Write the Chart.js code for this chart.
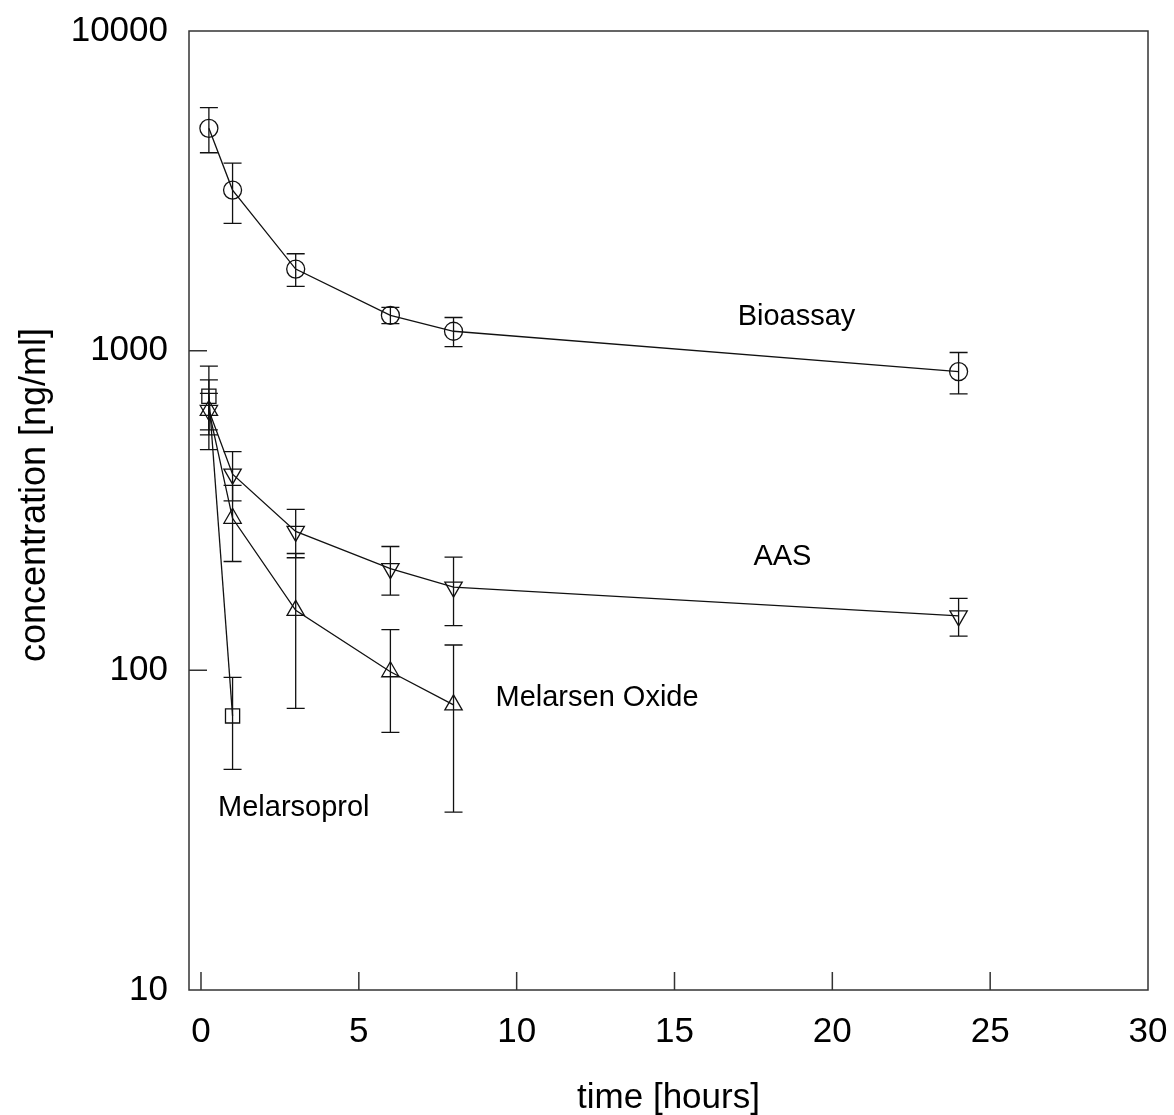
<!DOCTYPE html>
<html>
<head>
<meta charset="utf-8">
<script src="https://cdn.jsdelivr.net/npm/chart.js@4.4.1/dist/chart.umd.min.js"></script>
<style>
  html, body { margin: 0; padding: 0; background: #fff; }
  canvas { display: block; }
</style>
</head>
<body>
<canvas id="pkChart" width="1174" height="1115"></canvas>
<script>
// sampling times [h]
const bioassayTimes = [0.25, 1, 3, 6, 8, 24];
const aasTimes = [0.25, 1, 3, 6, 8, 24];
const oxideTimes = [0.25, 1, 3, 6, 8];
const melarsoprolTimes = [0.25, 1];

// mean concentration [ng/ml] and standard deviation
const bioassay = [4960, 3180, 1800, 1290, 1150, 860];
const bioassaySD = [800, 680, 210, 75, 120, 127];
const aas = [650, 411, 272, 208, 182, 148];
const aasSD = [160, 72, 47, 36, 44, 20];
const oxide = [650, 299, 154, 99, 78];
const oxideSD = [85, 80, 78, 35, 42];
const melarsoprol = [720, 72];
const melarsoprolSD = [175, 23];

// axis ticks
const xTicks = [0, 5, 10, 15, 20, 25, 30];
const yTicks = [10, 100, 1000, 10000];

// text placed next to each curve (x in hours, y in ng/ml)
const curveLabels = [
  { text: 'Bioassay', x: 17.0, y: 1274 },
  { text: 'AAS', x: 17.5, y: 226 },
  { text: 'Melarsen Oxide', x: 9.33, y: 81.8 },
  { text: 'Melarsoprol', x: 0.54, y: 37.1 }
];

const yTitle = 'concentration [ng/ml]';

const FONT = "'Liberation Sans', Arial, Helvetica, sans-serif";
const INK = '#111';

const toPoints = (xs, ys) => xs.map((t, i) => ({ x: t, y: ys[i] }));

function series(label, xs, ys, sd, style, extra) {
  return Object.assign({
    label,
    data: toPoints(xs, ys),
    sd,
    showLine: true,
    borderColor: INK,
    borderWidth: 1.3,
    backgroundColor: 'rgba(0,0,0,0)',
    pointStyle: style,
    pointRadius: 10,
    pointBorderWidth: 1.3,
    pointBorderColor: INK,
    pointBackgroundColor: 'rgba(0,0,0,0)',
    tension: 0
  }, extra || {});
}

// error bars, box frame, inward ticks, curve names and the y title
const decorations = {
  id: 'decorations',
  afterDatasetsDraw(chart) {
    const { ctx, chartArea: a, scales: { x, y } } = chart;
    ctx.save();
    ctx.strokeStyle = INK;
    ctx.lineWidth = 1.3;
    const cap = 9;
    chart.data.datasets.forEach(ds => {
      ds.data.forEach((p, i) => {
        const px = x.getPixelForValue(p.x);
        const top = y.getPixelForValue(p.y + ds.sd[i]);
        const bot = y.getPixelForValue(p.y - ds.sd[i]);
        ctx.beginPath();
        ctx.moveTo(px, top); ctx.lineTo(px, bot);
        ctx.moveTo(px - cap, top); ctx.lineTo(px + cap, top);
        ctx.moveTo(px - cap, bot); ctx.lineTo(px + cap, bot);
        ctx.stroke();
      });
    });

    ctx.strokeStyle = '#333';
    ctx.lineWidth = 1.5;
    ctx.strokeRect(a.left, a.top, a.width, a.height);
    ctx.beginPath();
    x.ticks.forEach(t => {
      const px = x.getPixelForValue(t.value);
      if (px > a.left + 2 && px < a.right - 2) {
        ctx.moveTo(px, a.bottom); ctx.lineTo(px, a.bottom - 18);
      }
    });
    y.ticks.forEach(t => {
      const py = y.getPixelForValue(t.value);
      if (py > a.top + 2 && py < a.bottom - 2) {
        ctx.moveTo(a.left, py); ctx.lineTo(a.left + 18, py);
      }
    });
    ctx.stroke();

    ctx.fillStyle = '#000';
    ctx.font = '29px ' + FONT;
    ctx.textAlign = 'left';
    ctx.textBaseline = 'middle';
    curveLabels.forEach(l => {
      ctx.fillText(l.text, x.getPixelForValue(l.x), y.getPixelForValue(l.y));
    });

    ctx.font = '36px ' + FONT;
    ctx.textAlign = 'center';
    ctx.translate(35, 495);
    ctx.rotate(-Math.PI / 2);
    ctx.fillText(yTitle, 0, 0);
    ctx.restore();
  }
};

new Chart(document.getElementById('pkChart'), {
  type: 'scatter',
  data: {
    datasets: [
      series('Bioassay', bioassayTimes, bioassay, bioassaySD, 'circle', { pointRadius: 9 }),
      series('AAS', aasTimes, aas, aasSD, 'triangle', { pointRotation: 180 }),
      series('Melarsen Oxide', oxideTimes, oxide, oxideSD, 'triangle'),
      series('Melarsoprol', melarsoprolTimes, melarsoprol, melarsoprolSD, 'rect')
    ]
  },
  options: {
    responsive: false,
    animation: false,
    layout: { padding: { top: 31, right: 26, left: 0, bottom: 0 } },
    plugins: { legend: { display: false }, tooltip: { enabled: false } },
    scales: {
      x: {
        type: 'linear',
        min: -0.38,
        max: 30,
        afterBuildTicks: s => { s.ticks = xTicks.map(v => ({ value: v })); },
        afterFit: s => { s.height = 125; s.paddingLeft = 0; s.paddingRight = 0; },
        grid: { display: false, drawTicks: false },
        border: { display: false },
        ticks: {
          color: '#000',
          padding: 21,
          font: { family: FONT, size: 35 },
          maxRotation: 0,
          callback: v => String(v)
        },
        title: {
          display: true,
          text: 'time [hours]',
          color: '#000',
          font: { family: FONT, size: 35 },
          padding: { top: 0, bottom: -4 }
        }
      },
      y: {
        type: 'logarithmic',
        min: 10,
        max: 10000,
        afterBuildTicks: s => { s.ticks = yTicks.map(v => ({ value: v })); },
        afterFit: s => { s.width = 189; s.paddingTop = 0; s.paddingBottom = 0; },
        grid: { display: false, drawTicks: false },
        border: { display: false },
        ticks: {
          color: '#000',
          padding: 21,
          font: { family: FONT, size: 35 },
          callback: v => String(v)
        }
      }
    }
  },
  plugins: [decorations]
});
</script>
</body>
</html>
